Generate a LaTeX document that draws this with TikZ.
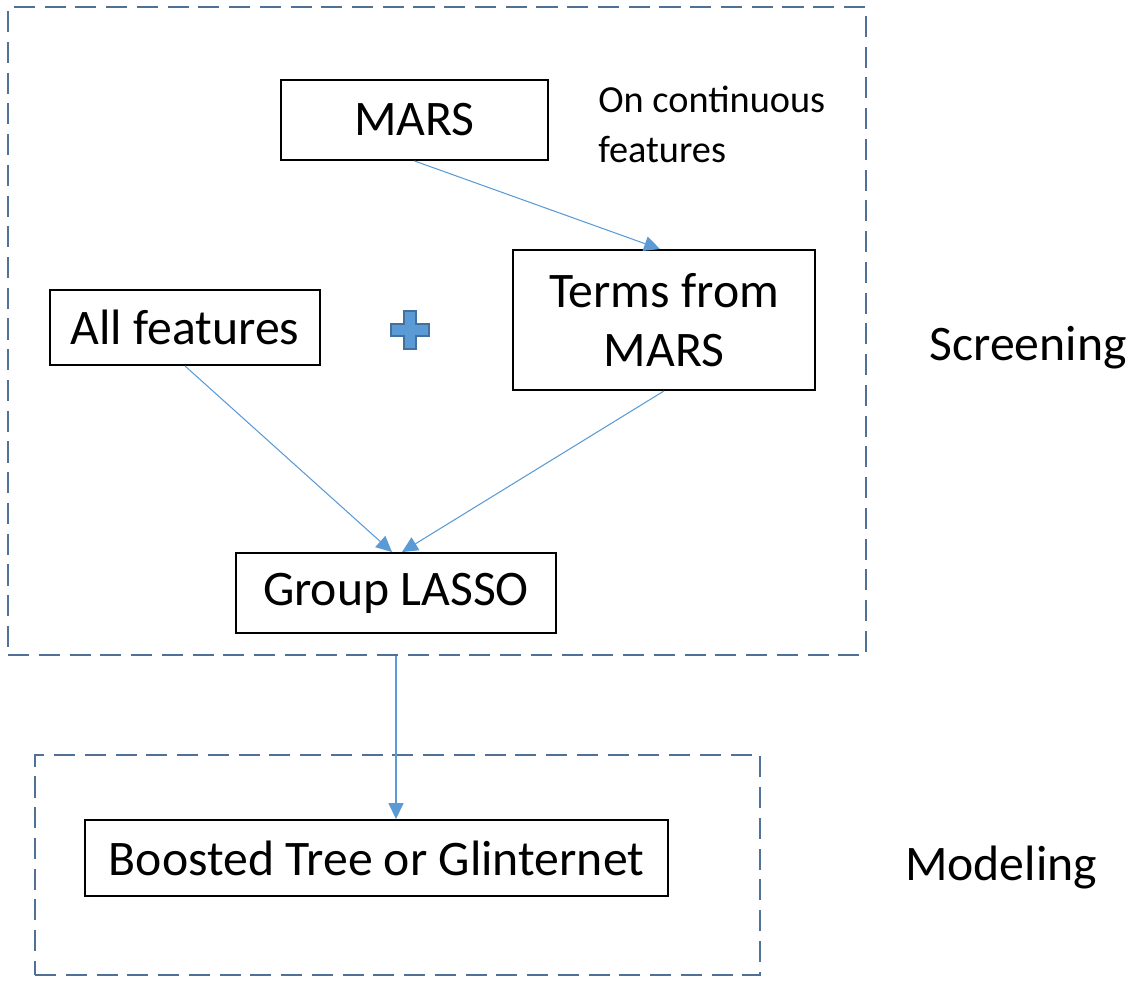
\documentclass[tikz,border=0pt]{standalone}
\usepackage{fontspec}
\setmainfont{Carlito}
\usetikzlibrary{arrows.meta}
\definecolor{flowblue}{HTML}{5B9BD5}
\definecolor{framegray}{HTML}{4F7195}
\definecolor{plusedge}{HTML}{41719C}
\tikzset{
    box/.style={draw=black, line width=1.1pt, inner sep=0pt, font=\fontsize{28.3}{34}\selectfont, align=center},
    frame/.style={draw=framegray, line width=1.1pt, dash pattern=on 12pt off 5.5pt, inner sep=0pt},
    flow/.style={draw=flowblue, line width=0.6pt, -{Triangle[length=9pt, width=8.5pt]}},
    note/.style={font=\fontsize{21.8}{28}\selectfont, align=left, inner sep=0pt},
    stage/.style={font=\fontsize{28.3}{34}\selectfont, inner sep=0pt}
}
\begin{document}
\begin{tikzpicture}[x=0.02cm, y=-0.02cm]
    \useasboundingbox (0,0) rectangle (1130,981);
    %frames
    \node[frame, minimum width=17.16cm, minimum height=12.96cm] (screen) at (437,331) {};
    \node[frame, minimum width=14.5cm, minimum height=4.4cm] (model) at (397.5,865) {};
    %boxes
    \node[box, minimum width=5.34cm, minimum height=1.6cm] (mars) at (414.5,120) {MARS};
    \node[box, minimum width=6.04cm, minimum height=2.8cm] (terms) at (664,320) {Terms from\\MARS};
    \node[box, minimum width=5.4cm, minimum height=1.5cm] (allfeat) at (185,327.5) {All features};
    \node[box, minimum width=6.4cm, minimum height=1.6cm] (lasso) at (396,593) {Group LASSO};
    \node[box, minimum width=11.66cm, minimum height=1.52cm] (boost) at (376.5,858) {Boosted Tree or Glinternet};
    %texts
    \node[note, anchor=north west] (cont) at (598,86) {On continuous\\features};
    \node[stage] (screening) at (1028,348) {Screening};
    \node[stage] (modeling) at (1001,867) {Modeling};
    %plus
    \filldraw[fill=flowblue, draw=plusedge, line width=0.8pt, shift={(410,330)}]
        (-6,-19) -- (6,-19) -- (6,-6) -- (19,-6) -- (19,6) -- (6,6) -- (6,19)
        -- (-6,19) -- (-6,6) -- (-19,6) -- (-19,-6) -- (-6,-6) -- cycle;
    %arrows
    \draw[flow] (mars.south) -- ([xshift=-0.08cm]terms.north);
    \draw[flow] (allfeat.south) -- ([xshift=-0.08cm]lasso.north);
    \draw[flow] (terms.south) -- ([xshift=0.12cm]lasso.north);
    \draw[flow] (screen.south -| lasso.south) -- (boost.north -| lasso.south);
\end{tikzpicture}
\end{document}
